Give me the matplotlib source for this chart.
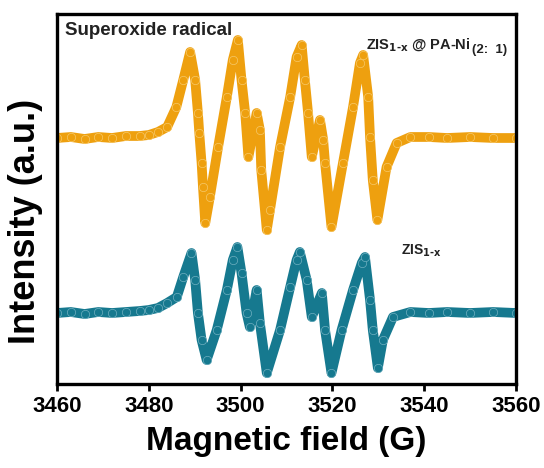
import matplotlib
matplotlib.use("Agg")
import matplotlib.pyplot as plt
from matplotlib.transforms import offset_copy

plt.rcParams['font.family'] = ['Liberation Sans', 'DejaVu Sans']
plt.rcParams['font.weight'] = 'bold'

# Magnetic field (G) and intensity (a.u.)
field_top = [3460, 3463, 3466, 3469, 3472, 3475, 3478, 3480, 3482, 3484, 3486, 3487.5, 3489,
             3490.1, 3490.7, 3491.0, 3491.5, 3491.8, 3492.3, 3493.3, 3495.1, 3497.0, 3498.3,
             3499.4, 3500.2, 3501.0, 3501.7, 3503.5, 3504.2, 3504.5, 3505.7, 3506.4, 3508.6,
             3510.8, 3512.2, 3513.3, 3514.0, 3514.7, 3515.5, 3517.3, 3518.0, 3518.4, 3519.8,
             3522.3, 3524.5, 3526.0, 3526.7, 3527.8, 3528.2, 3528.8, 3529.8, 3531.8, 3534.0,
             3537, 3541, 3545, 3550, 3555, 3560]
zis_pani = [0.0, 0.1, -0.1, 0.1, 0.0, 0.2, 0.2, 0.3, 0.6, 1.1, 3.1, 5.8, 8.6,
            5.8, 2.5, 0.5, -2.5, -4.9, -8.5, -5.9, -0.9, 4.1, 7.8,
            9.8, 5.8, 2.5, -1.9, 2.5, 0.8, -3.2, -9.2, -7.2, -0.9,
            4.1, 8.1, 9.3, 5.8, 2.5, -1.9, 1.8, -0.2, -2.5, -8.9,
            -2.5, 3.1, 7.5, 8.3, 4.1, 0.1, -4.2, -8.2, -2.9, -0.5,
            0.1, 0.1, 0.0, 0.1, 0.0, 0.0]

field_bot = [3460, 3463, 3466, 3469, 3472, 3475, 3478, 3480, 3482, 3484, 3486.1, 3487.5, 3489.3,
             3490.1, 3490.7, 3491.5, 3492.6, 3494.8, 3497.0, 3498.3, 3499.3, 3500.2, 3501.3,
             3502.0, 3503.5, 3504.2, 3505.7, 3508.6, 3510.8, 3512.2, 3512.9, 3514.4, 3515.5,
             3517.7, 3518.4, 3519.8, 3522.0, 3524.5, 3526.4, 3527.1, 3528.2, 3528.8, 3529.9,
             3531.0, 3533.2, 3537, 3541, 3545, 3550, 3555, 3560]
zis = [0.0, 0.1, -0.1, 0.1, 0.0, 0.1, 0.2, 0.3, 0.5, 1.0, 1.6, 3.6, 6.0,
       3.3, 0.0, -2.7, -4.7, -1.7, 2.3, 5.3, 6.6, 4.0, 0.0,
       -1.4, 2.3, -1.0, -6.0, -1.7, 2.6, 5.3, 6.1, 3.3, -0.4,
       2.0, -1.7, -6.0, -1.7, 2.3, 5.0, 5.6, 1.3, -1.7, -5.5,
       -2.7, -0.4, 0.1, 0.0, 0.1, 0.0, 0.1, 0.0]

offset_top = 17.5
xticks = [3460, 3480, 3500, 3520, 3540, 3560]

fig = plt.figure(figsize=(5.44, 4.68), dpi=100)
ax = fig.add_axes([0.1048, 0.1795, 0.8437, 0.7906])

orange = '#EEA00F'
teal = '#16798F'
ax.plot(field_top, [v + offset_top for v in zis_pani], color=orange, lw=7,
        solid_joinstyle='round', solid_capstyle='round', marker='o', ms=6,
        mfc=orange, mec='#F6C86A', mew=0.5)
ax.plot(field_bot, zis, color=teal, lw=7,
        solid_joinstyle='round', solid_capstyle='round', marker='o', ms=6,
        mfc=teal, mec='#6FAFC0', mew=0.5)

ax.set_xlim(3460, 3560)
ax.set_ylim(-7.1, 29.9)
ax.set_xticks(xticks)
ax.set_xticklabels([str(t) for t in xticks], fontsize=16, fontweight='bold')
ax.set_yticks([])
ax.tick_params(axis='x', direction='out', length=5, width=2, pad=4)
for s in ax.spines.values():
    s.set_linewidth(2.4)

ax.set_xlabel('Magnetic field (G)', fontsize=24, fontweight='bold', labelpad=6)
ax.set_ylabel('Intensity (a.u.)', fontsize=26, fontweight='bold')
ax.yaxis.set_label_coords(-0.03, 0.44)

ax.text(0.017, 0.955, 'Superoxide radical', transform=ax.transAxes, fontsize=13.5,
        fontweight='bold', va='center', ha='left', color='#222222')
t1 = ax.text(0.673, 0.905, r'ZIS$_{\mathbf{1\text{-}x}}$ @ PA-Ni', transform=ax.transAxes,
             fontsize=10.5, fontweight='bold', va='baseline', ha='left', color='#222222')
fig.canvas.draw()
bb = t1.get_window_extent()
x_end = ax.transAxes.inverted().transform((bb.x1, bb.y0))[0]
t2 = ax.text(x_end, 0.905, '(2:  1)', fontsize=9.5, fontweight='bold', va='baseline',
             ha='left', color='#222222', clip_on=True,
             transform=offset_copy(ax.transAxes, fig=fig, x=1, y=-3, units='points'))
ax.text(0.75, 0.36, r'ZIS$_{\mathbf{1\text{-}x}}$', transform=ax.transAxes,
        fontsize=10, fontweight='bold', va='center', ha='left', color='#222222')

fig.savefig('out.png', dpi=100)
